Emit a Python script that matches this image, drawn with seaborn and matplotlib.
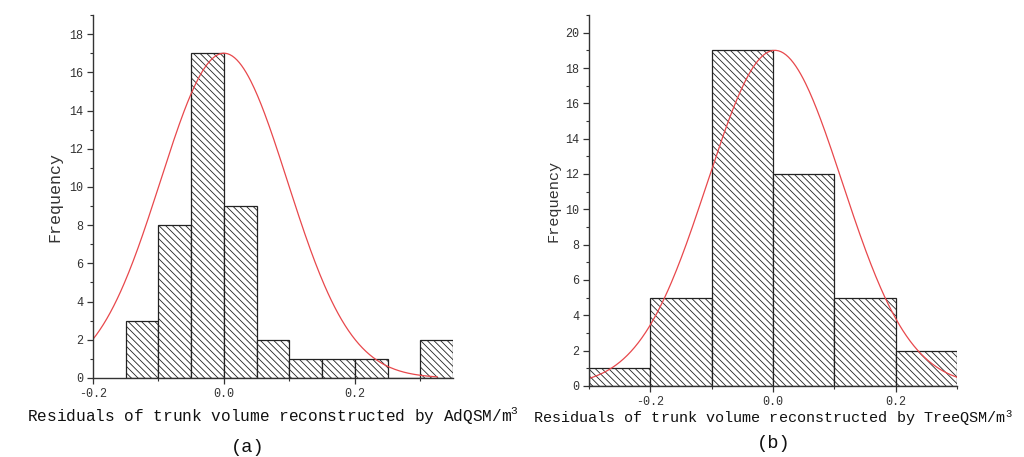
import numpy as np
import pandas as pd
import matplotlib
matplotlib.use("Agg")
import matplotlib.pyplot as plt
import seaborn as sns
from matplotlib.ticker import MultipleLocator

# ---------------- data ----------------
a_edges = [-0.15, -0.10, -0.05, 0.00, 0.05, 0.10, 0.15, 0.20, 0.25, 0.30, 0.35]
a_counts = [3, 8, 17, 9, 2, 1, 1, 1, 0, 2]
a_fit_mean, a_fit_sd, a_fit_peak = 0.0, 0.097, 17.0
a_fit_range = (-0.2, 0.326)

b_edges = [-0.3, -0.2, -0.1, 0.0, 0.1, 0.2, 0.3]
b_counts = [1, 5, 19, 12, 5, 2]
b_fit_mean, b_fit_sd, b_fit_peak = 0.003, 0.11, 19.0
b_fit_range = (-0.3, 0.3)

a_xlabel = "Residuals of trunk volume reconstructed by AdQSM/m$^3$"
b_xlabel = "Residuals of trunk volume reconstructed by TreeQSM/m$^3$"
ylabel = "Frequency"

# ---------------- style ----------------
sns.set_theme(style="white")
plt.rcParams['font.family'] = ['Liberation Mono', 'DejaVu Sans']
plt.rcParams['mathtext.fontset'] = 'custom'
plt.rcParams['mathtext.rm'] = 'Liberation Mono'
plt.rcParams['mathtext.it'] = 'Liberation Mono'
plt.rcParams['mathtext.default'] = 'rm'
plt.rcParams['hatch.linewidth'] = 0.6
plt.rcParams['hatch.color'] = '#3a3a3a'

fig = plt.figure(figsize=(10.24, 4.57), dpi=100)
ax_a = fig.add_axes([93/1024, 1-378/457, 360/1024, 363/457])
ax_b = fig.add_axes([589/1024, 1-386/457, 368/1024, 371/457])


def draw(ax, edges, counts, mean, sd, peak, frange, xlim, ylim, xlabel,
         xlab_fs, xlab_y, ylab_x, ylab_fs):
    centers = [(edges[i] + edges[i+1]) / 2 for i in range(len(counts))]
    df = pd.DataFrame({"x": centers, "w": counts})
    sns.histplot(data=df, x="x", weights="w", bins=edges, ax=ax,
                 stat="count", fill=True, color="white", edgecolor="#222222",
                 linewidth=0.9, alpha=1)
    for p in ax.patches:
        p.set_hatch("\\\\\\\\\\")
        p.set_facecolor("white")
        p.set_edgecolor("#222222")
    xs = np.linspace(frange[0], frange[1], 300)
    ys = peak * np.exp(-0.5 * ((xs - mean) / sd) ** 2)
    sns.lineplot(x=xs, y=ys, ax=ax, color="#e8484c", linewidth=0.9)
    ax.set_xlim(*xlim)
    ax.set_ylim(*ylim)
    for s in ["top", "right"]:
        ax.spines[s].set_visible(False)
    for s in ["left", "bottom"]:
        ax.spines[s].set_color("#333333")
        ax.spines[s].set_linewidth(1.0)
    ax.xaxis.set_major_locator(MultipleLocator(0.2))
    ax.xaxis.set_minor_locator(MultipleLocator(0.1))
    ax.yaxis.set_major_locator(MultipleLocator(2))
    ax.yaxis.set_minor_locator(MultipleLocator(1))
    ax.tick_params(which="major", direction="out", length=4, width=0.9,
                   color="#333333", labelsize=8.5, labelcolor="#333333",
                   bottom=True, left=True, pad=3)
    ax.tick_params(which="minor", direction="out", length=2, width=0.8,
                   color="#333333", bottom=True, left=True)
    ax.set_xticklabels([f"{t:.1f}" for t in ax.get_xticks()])
    ax.set_xlabel(xlabel, fontsize=xlab_fs, color="#111111")
    ax.xaxis.set_label_coords(0.5, xlab_y)
    ax.xaxis.label.set_va("center")
    ax.set_ylabel(ylabel, fontsize=ylab_fs, color="#333333")
    ax.yaxis.set_label_coords(ylab_x, 0.5)
    ax.yaxis.label.set_va("center")
    ax.grid(False)


draw(ax_a, a_edges, a_counts, a_fit_mean, a_fit_sd, a_fit_peak, a_fit_range,
     (-0.2, 0.35), (0, 19), a_xlabel, 11.6, (378-415)/363, (55-93)/360, 12)
draw(ax_b, b_edges, b_counts, b_fit_mean, b_fit_sd, b_fit_peak, b_fit_range,
     (-0.3, 0.3), (0, 21), b_xlabel, 10.9, (386-418)/371, (554-589)/368, 11)

fig.text(248/1024, 1-447/457, "(a)", fontsize=13.5, ha="center", va="center",
         color="#111111")
fig.text(774/1024, 1-444/457, "(b)", fontsize=13.5, ha="center", va="center",
         color="#111111")

fig.savefig("out.png", dpi=100, facecolor="white")
